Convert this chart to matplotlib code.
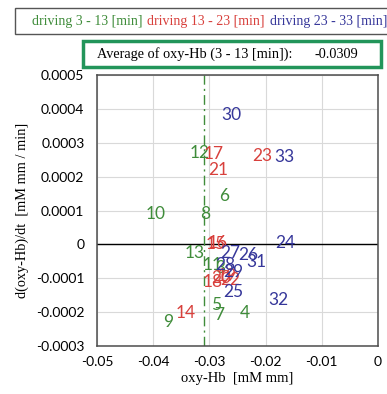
import matplotlib
matplotlib.use("Agg")
import matplotlib.pyplot as plt
from matplotlib.patches import Rectangle

# Per-interval points: (label, oxy-Hb, d(oxy-Hb)/dt)
green_labels = ["3", "4", "5", "6", "7", "8", "9", "10", "11", "12", "13"]
green_x = [-0.0281, -0.0237, -0.0288, -0.0274, -0.0283, -0.0308, -0.0374, -0.0395, -0.0295, -0.0317, -0.0326]
green_y = [-0.000070, -0.000204, -0.000180, 0.000142, -0.000209, 0.0000885, -0.000230, 0.0000885, -0.000062, 0.000271, -0.0000265]

red_labels = ["14", "15", "16", "17", "18", "19", "20", "21", "22", "23"]
red_x = [-0.0343, -0.0288, -0.0285, -0.0292, -0.0294, -0.0270, -0.0279, -0.0285, -0.0263, -0.0205]
red_y = [-0.000204, 0.000000, 0.000003, 0.000268, -0.000112, -0.000092, -0.000100, 0.000221, -0.000106, 0.000260]

blue_labels = ["24", "25", "26", "27", "28", "29", "30", "31", "32", "33"]
blue_x = [-0.0165, -0.0258, -0.0231, -0.0263, -0.0272, -0.0258, -0.0260, -0.0217, -0.0178, -0.0167]
blue_y = [0.000003, -0.000142, -0.000032, -0.0000265, -0.000062, -0.0000826, 0.000383, -0.000053, -0.000165, 0.000257]

avg_oxy = -0.0309

x_ticks = [-0.05, -0.04, -0.03, -0.02, -0.01, 0]
x_tick_labels = ["-0.05", "-0.04", "-0.03", "-0.02", "-0.01", "0"]
y_ticks = [-0.0003, -0.0002, -0.0001, 0, 0.0001, 0.0002, 0.0003, 0.0004, 0.0005]
y_tick_labels = ["-0.0003", "-0.0002", "-0.0001", "0", "0.0001", "0.0002", "0.0003", "0.0004", "0.0005"]

GREEN = "#3f8c3a"
RED = "#d8403c"
BLUE = "#36379a"
SERIF = "Liberation Serif"
SANS = "Lato"

fig = plt.figure(figsize=(3.87, 3.94), dpi=100)
ax = fig.add_axes([0.2506, 0.1218, 0.7261, 0.6878])

ax.set_xlim(-0.05, 0)
ax.set_ylim(-0.0003, 0.0005)
ax.set_xticks(x_ticks)
ax.set_xticklabels(x_tick_labels, fontfamily=SANS, fontsize=10)
ax.set_yticks(y_ticks)
ax.set_yticklabels(y_tick_labels, fontfamily=SANS, fontsize=10)
ax.tick_params(axis="y", length=0, pad=9)
ax.tick_params(axis="x", length=0, pad=7)
ax.grid(True, color="#d9d9d9", linewidth=0.8)
ax.set_axisbelow(True)
for s in ax.spines.values():
    s.set_color("#4d4d4d")
    s.set_linewidth(1.1)

ax.axhline(0, color="black", linewidth=1.0, zorder=1)
ax.axvline(avg_oxy, color=GREEN, linewidth=1.0, linestyle=(0, (7, 3, 1.5, 3)), zorder=1)

for labels, xs, ys, col in [(green_labels, green_x, green_y, GREEN),
                            (red_labels, red_x, red_y, RED),
                            (blue_labels, blue_x, blue_y, BLUE)]:
    for lab, xv, yv in zip(labels, xs, ys):
        ax.text(xv, yv, lab, color=col, fontsize=12.5, fontfamily=SANS,
                ha="center", va="center", zorder=3)

ax.set_xlabel("oxy-Hb  [mM mm]", fontfamily=SERIF, fontsize=10.5, labelpad=3)
ax.set_ylabel("d(oxy-Hb)/dt  [mM mm / min]", fontfamily=SERIF, fontsize=10.3, labelpad=5)

# header boxes
fig.patches.append(Rectangle((15 / 387, 1 - 34 / 394), 380 / 387, 26 / 394,
                             transform=fig.transFigure, facecolor="white",
                             edgecolor="#555555", linewidth=1.0, zorder=0))
fig.text(32 / 387, 1 - 21 / 394, "driving 3 - 13 [min]", color=GREEN,
         fontfamily=SERIF, fontsize=10, va="center", ha="left")
fig.text(147 / 387, 1 - 21 / 394, "driving 13 - 23 [min]", color=RED,
         fontfamily=SERIF, fontsize=10, va="center", ha="left")
fig.text(270 / 387, 1 - 21 / 394, "driving 23 - 33 [min]", color=BLUE,
         fontfamily=SERIF, fontsize=10, va="center", ha="left")

fig.patches.append(Rectangle((83 / 387, 1 - 67 / 394), 298 / 387, 26 / 394,
                             transform=fig.transFigure, facecolor="white",
                             edgecolor="#22955a", linewidth=2.5, zorder=0))
fig.text(97 / 387, 1 - 54 / 394, "Average of oxy-Hb (3 - 13 [min]):", color="black",
         fontfamily=SERIF, fontsize=10.3, va="center", ha="left")
fig.text(358 / 387, 1 - 54 / 394, f"{avg_oxy:.4f}", color="black",
         fontfamily=SERIF, fontsize=10.3, va="center", ha="right")

fig.savefig("out.png", dpi=100)
